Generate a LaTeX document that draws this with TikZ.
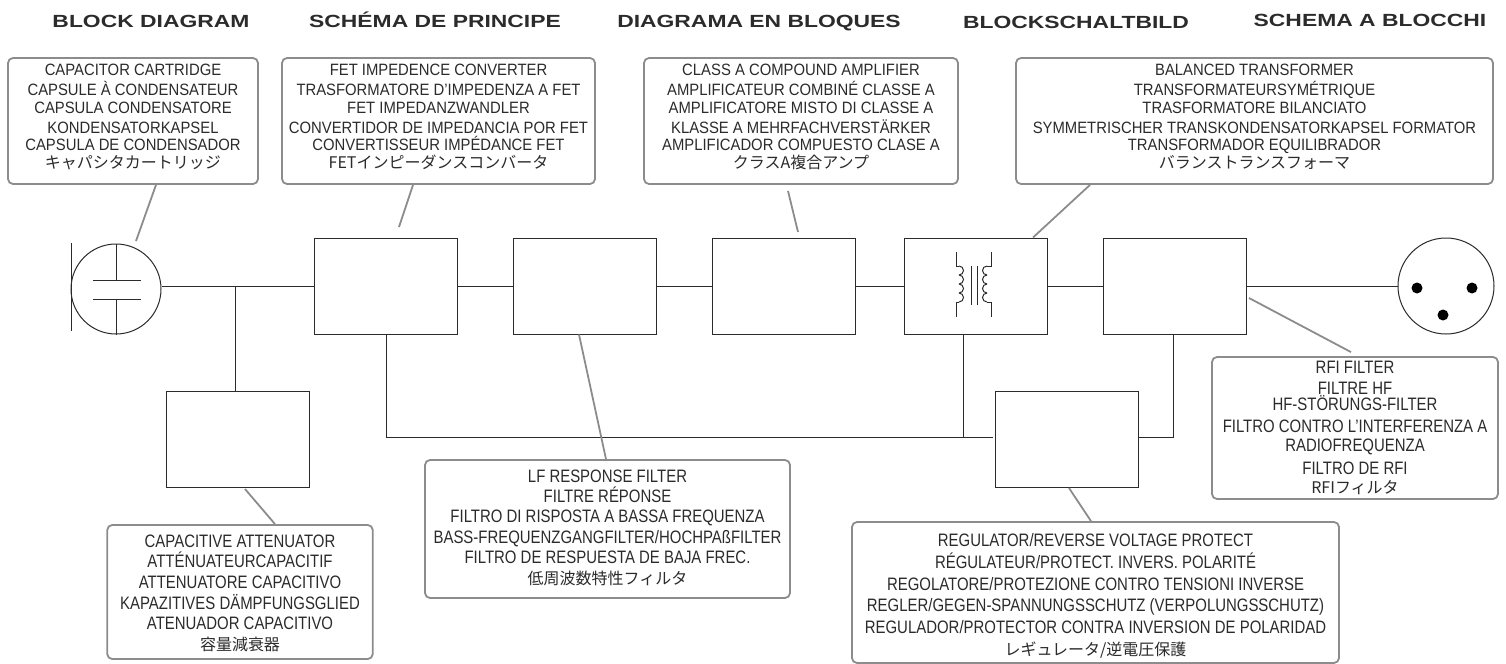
\documentclass[tikz,border=0pt]{standalone}
\usepackage{fontspec}
\usepackage{tikz}
\newfontfamily\headfont[FakeStretch=1.3]{Liberation Sans}
\newfontfamily\topfont[FakeStretch=0.905]{Liberation Sans}
\newfontfamily\lowfont[FakeStretch=0.83]{Liberation Sans}
\newfontfamily\jpfont{Noto Sans CJK JP}
\newcommand{\jpline}[1]{{\jpfont\fontsize{8}{9}\selectfont #1}}
\definecolor{inkgrey}{HTML}{2B2B2B}
\definecolor{notegrey}{HTML}{8C8C8C}

\begin{document}
\begin{tikzpicture}[
                    x=0.5pt,
                    y=-0.5pt,
                    block/.style={
                        rectangle,
                        draw=inkgrey,
                        line width=0.5pt,
                        minimum width=71.5pt,
                        minimum height=48pt,
                        inner sep=0pt
                    },
                    jack/.style={
                        circle,
                        draw=inkgrey,
                        line width=0.5pt,
                        inner sep=0pt
                    },
                    xlrpin/.style={
                        circle,
                        fill=black,
                        minimum size=5.5pt,
                        inner sep=0pt
                    },
                    heading/.style={
                        anchor=base,
                        text=inkgrey,
                        font=\headfont\bfseries\fontsize{8.8}{10}\selectfont
                    },
                    note/.style={
                        rectangle,
                        rounded corners=2.5pt,
                        draw=notegrey,
                        line width=0.9pt,
                        fill=white,
                        text=inkgrey,
                        align=center,
                        inner sep=0pt
                    },
                    topnote/.style={
                        note,
                        minimum height=63pt,
                        font=\topfont\fontsize{8.2}{9}\selectfont
                    },
                    lownote/.style={
                        note,
                        font=\lowfont\fontsize{9}{#1}\selectfont
                    },
                    wire/.style={
                        draw=inkgrey,
                        line width=0.5pt
                    },
                    leader/.style={
                        draw=notegrey,
                        line width=0.9pt
                    }
                ]
                \useasboundingbox (0,0) rectangle (1506,664);

                \node (headen) [heading] at (151,27) {BLOCK DIAGRAM};
                \node (headfr) [heading] at (435,27) {SCHÉMA DE PRINCIPE};
                \node (heades) [heading] at (759,27) {DIAGRAMA EN BLOQUES};
                \node (headde) [heading] at (1076,28) {BLOCKSCHALTBILD};
                \node (headit) [heading] at (1370,26) {SCHEMA A BLOCCHI};

                \node (capnote) [topnote, minimum width=125pt] at (133,121) {CAPACITOR CARTRIDGE\\[1pt]
                    CAPSULE À CONDENSATEUR\\
                    CAPSULA CONDENSATORE\\[1pt]
                    KONDENSATORKAPSEL\\[-0.5pt]
                    CAPSULA DE CONDENSADOR\\
                    \jpline{キャパシタカートリッジ}\\[-4.5pt]{}};
                \node (fetnote) [topnote, minimum width=156.5pt] at (438.5,121) {FET IMPEDENCE CONVERTER\\[1pt]
                    TRASFORMATORE D’IMPEDENZA A FET\\
                    FET IMPEDANZWANDLER\\[1pt]
                    CONVERTIDOR DE IMPEDANCIA POR FET\\[-0.5pt]
                    CONVERTISSEUR IMPÉDANCE FET\\
                    \jpline{FETインピーダンスコンバータ}\\[-4.5pt]{}};
                \node (classnote) [topnote, minimum width=157pt] at (801,121) {CLASS A COMPOUND AMPLIFIER\\[1pt]
                    AMPLIFICATEUR COMBINÉ CLASSE A\\
                    AMPLIFICATORE MISTO DI CLASSE A\\[1pt]
                    KLASSE A MEHRFACHVERSTÄRKER\\[-0.5pt]
                    AMPLIFICADOR COMPUESTO CLASE A\\
                    \jpline{クラスA複合アンプ}\\[-4.5pt]{}};
                \node (balnote) [topnote, minimum width=238.5pt] at (1254.5,121) {BALANCED TRANSFORMER\\[1pt]
                    TRANSFORMATEURSYMÉTRIQUE\\
                    TRASFORMATORE BILANCIATO\\[1pt]
                    SYMMETRISCHER TRANSKONDENSATORKAPSEL FORMATOR\\[-0.5pt]
                    TRANSFORMADOR EQUILIBRADOR\\
                    \jpline{バランストランスフォーマ}\\[-4.5pt]{}};
                \node (attnote) [lownote=10.3, minimum width=132.75pt, minimum height=67pt] at (240,592) {\rule{0pt}{7.5pt}CAPACITIVE ATTENUATOR\\
                    ATTÉNUATEURCAPACITIF\\
                    ATTENUATORE CAPACITIVO\\
                    KAPAZITIVES DÄMPFUNGSGLIED\\
                    ATENUADOR CAPACITIVO\\
                    \jpline{容量減衰器}};
                \node (lfnote) [lownote=10.2, minimum width=182.5pt, minimum height=69pt] at (607.5,529) {LF RESPONSE FILTER\\
                    FILTRE RÉPONSE\\
                    FILTRO DI RISPOSTA A BASSA FREQUENZA\\
                    BASS-FREQUENZGANGFILTER/HOCHPAßFILTER\\
                    FILTRO DE RESPUESTA DE BAJA FREC.\\
                    \jpline{低周波数特性フィルタ}\\[-8pt]{}};
                \node (regnote) [lownote=10.9, minimum width=243.5pt, minimum height=70.5pt] at (1095.5,592.5) {\rule{0pt}{10pt}REGULATOR/REVERSE VOLTAGE PROTECT\\
                    RÉGULATEUR/PROTECT. INVERS. POLARITÉ\\
                    REGOLATORE/PROTEZIONE CONTRO TENSIONI INVERSE\\
                    REGLER/GEGEN-SPANNUNGSSCHUTZ (VERPOLUNGSSCHUTZ)\\
                    REGULADOR/PROTECTOR CONTRA INVERSION DE POLARIDAD\\
                    \jpline{レギュレータ/逆電圧保護}};
                \node (rfinote) [lownote=9, minimum width=143pt, minimum height=71pt] at (1355,428) {RFI FILTER\\[1.5pt]
                    FILTRE HF\\[-1pt]
                    HF-STÖRUNGS-FILTER\\[2pt]
                    FILTRO CONTRO L’INTERFERENZA A\\[0.5pt]
                    RADIOFREQUENZA\\[2.5pt]
                    FILTRO DE RFI\\[0.5pt]
                    \jpline{RFIフィルタ}};

                \node (capsule) [jack, minimum size=45pt] at (116,289) {};
                \node (fetblock) [block] at (386,286) {};
                \node (filterblock) [block] at (584.5,286) {};
                \node (classblock) [block] at (783.5,286) {};
                \node (transblock) [block] at (976,286) {};
                \node (rfiblock) [block] at (1175,286) {};
                \node (xlr) [jack, minimum size=48pt] at (1446,286) {};
                \node (attblock) [block] at (237.5,439.5) {};
                \node (regblock) [block] at (1066.5,439.5) {};
                \node (pina) [xlrpin] at (1417,288) {};
                \node (pinb) [xlrpin] at (1472,288) {};
                \node (pinc) [xlrpin] at (1443,315) {};

                \coordinate (split) at (235,286);
                \coordinate (bustap) at (963,437);
                \coordinate (captip) at (136,241);
                \coordinate (fettip) at (399,227);
                \coordinate (classtip) at (798,232);
                \coordinate (rfitip) at (1249,298);
                \coordinate (atttip) at (245,489);
                \coordinate (regtip) at (1069,488);

                \draw [wire] (capsule.east |- fetblock.west) -- (fetblock.west);
                \draw [wire] (fetblock) -- (filterblock);
                \draw [wire] (filterblock) -- (classblock);
                \draw [wire] (classblock) -- (transblock);
                \draw [wire] (transblock) -- (rfiblock);
                \draw [wire] (rfiblock) -- (xlr);
                \draw [wire] (split) -- (split |- attblock.north);
                \draw [wire] (fetblock.south) |- ([xshift=-1pt,yshift=1.25pt]regblock.west);
                \draw [wire] ([xshift=-6.5pt]transblock.south) -- (bustap);
                \draw [wire] ([xshift=-1pt]rfiblock.south) |- ([yshift=1.25pt]regblock.east);

                \draw [wire] (71,243) -- (71,331);
                \draw [wire] (capsule.north) -- (116,280);
                \draw [wire] (93,280) -- (141,280);
                \draw [wire] (93,299) -- (141,299);
                \draw [wire] (116,299) -- (capsule.south);

                \draw [wire] (956,252) -- (956,266) -- (959,266);
                \draw [wire] (956,317) -- (956,302) -- (959,302);
                \draw [wire] (991,252) -- (991,266) -- (987,266);
                \draw [wire] (991,317) -- (991,302) -- (987,302);
                \foreach \n in {0,...,3} {
                    \draw [wire] (959,{266+9*\n}) arc[start angle=-90, delta angle=180, radius=4.5];
                    \draw [wire] (987,{266+9*\n}) arc[start angle=-90, delta angle=-180, radius=4.5];
                }
                \draw [wire] (971,266) -- (971,305);
                \draw [wire] (977,266) -- (977,305);

                \draw [leader] ([xshift=11.5pt]capnote.south) -- (captip);
                \draw [leader] ([xshift=-12.75pt]fetnote.south) -- (fettip);
                \draw [leader] ([xshift=-6.5pt,yshift=-3pt]classnote.south) -- (classtip);
                \draw [leader] ([xshift=-82.25pt]balnote.south) -- ([xshift=28.5pt]transblock.north);
                \draw [leader] ([xshift=-2pt,yshift=2pt]rfinote.north) -- (rfitip);
                \draw [leader] ([xshift=-0.75pt]lfnote.north) -- ([xshift=-2.75pt]filterblock.south);
                \draw [leader] ([xshift=17.5pt]attnote.north) -- (atttip);
                \draw [leader] ([xshift=-2.25pt]regnote.north) -- (regtip);
            \end{tikzpicture}
\end{document}
